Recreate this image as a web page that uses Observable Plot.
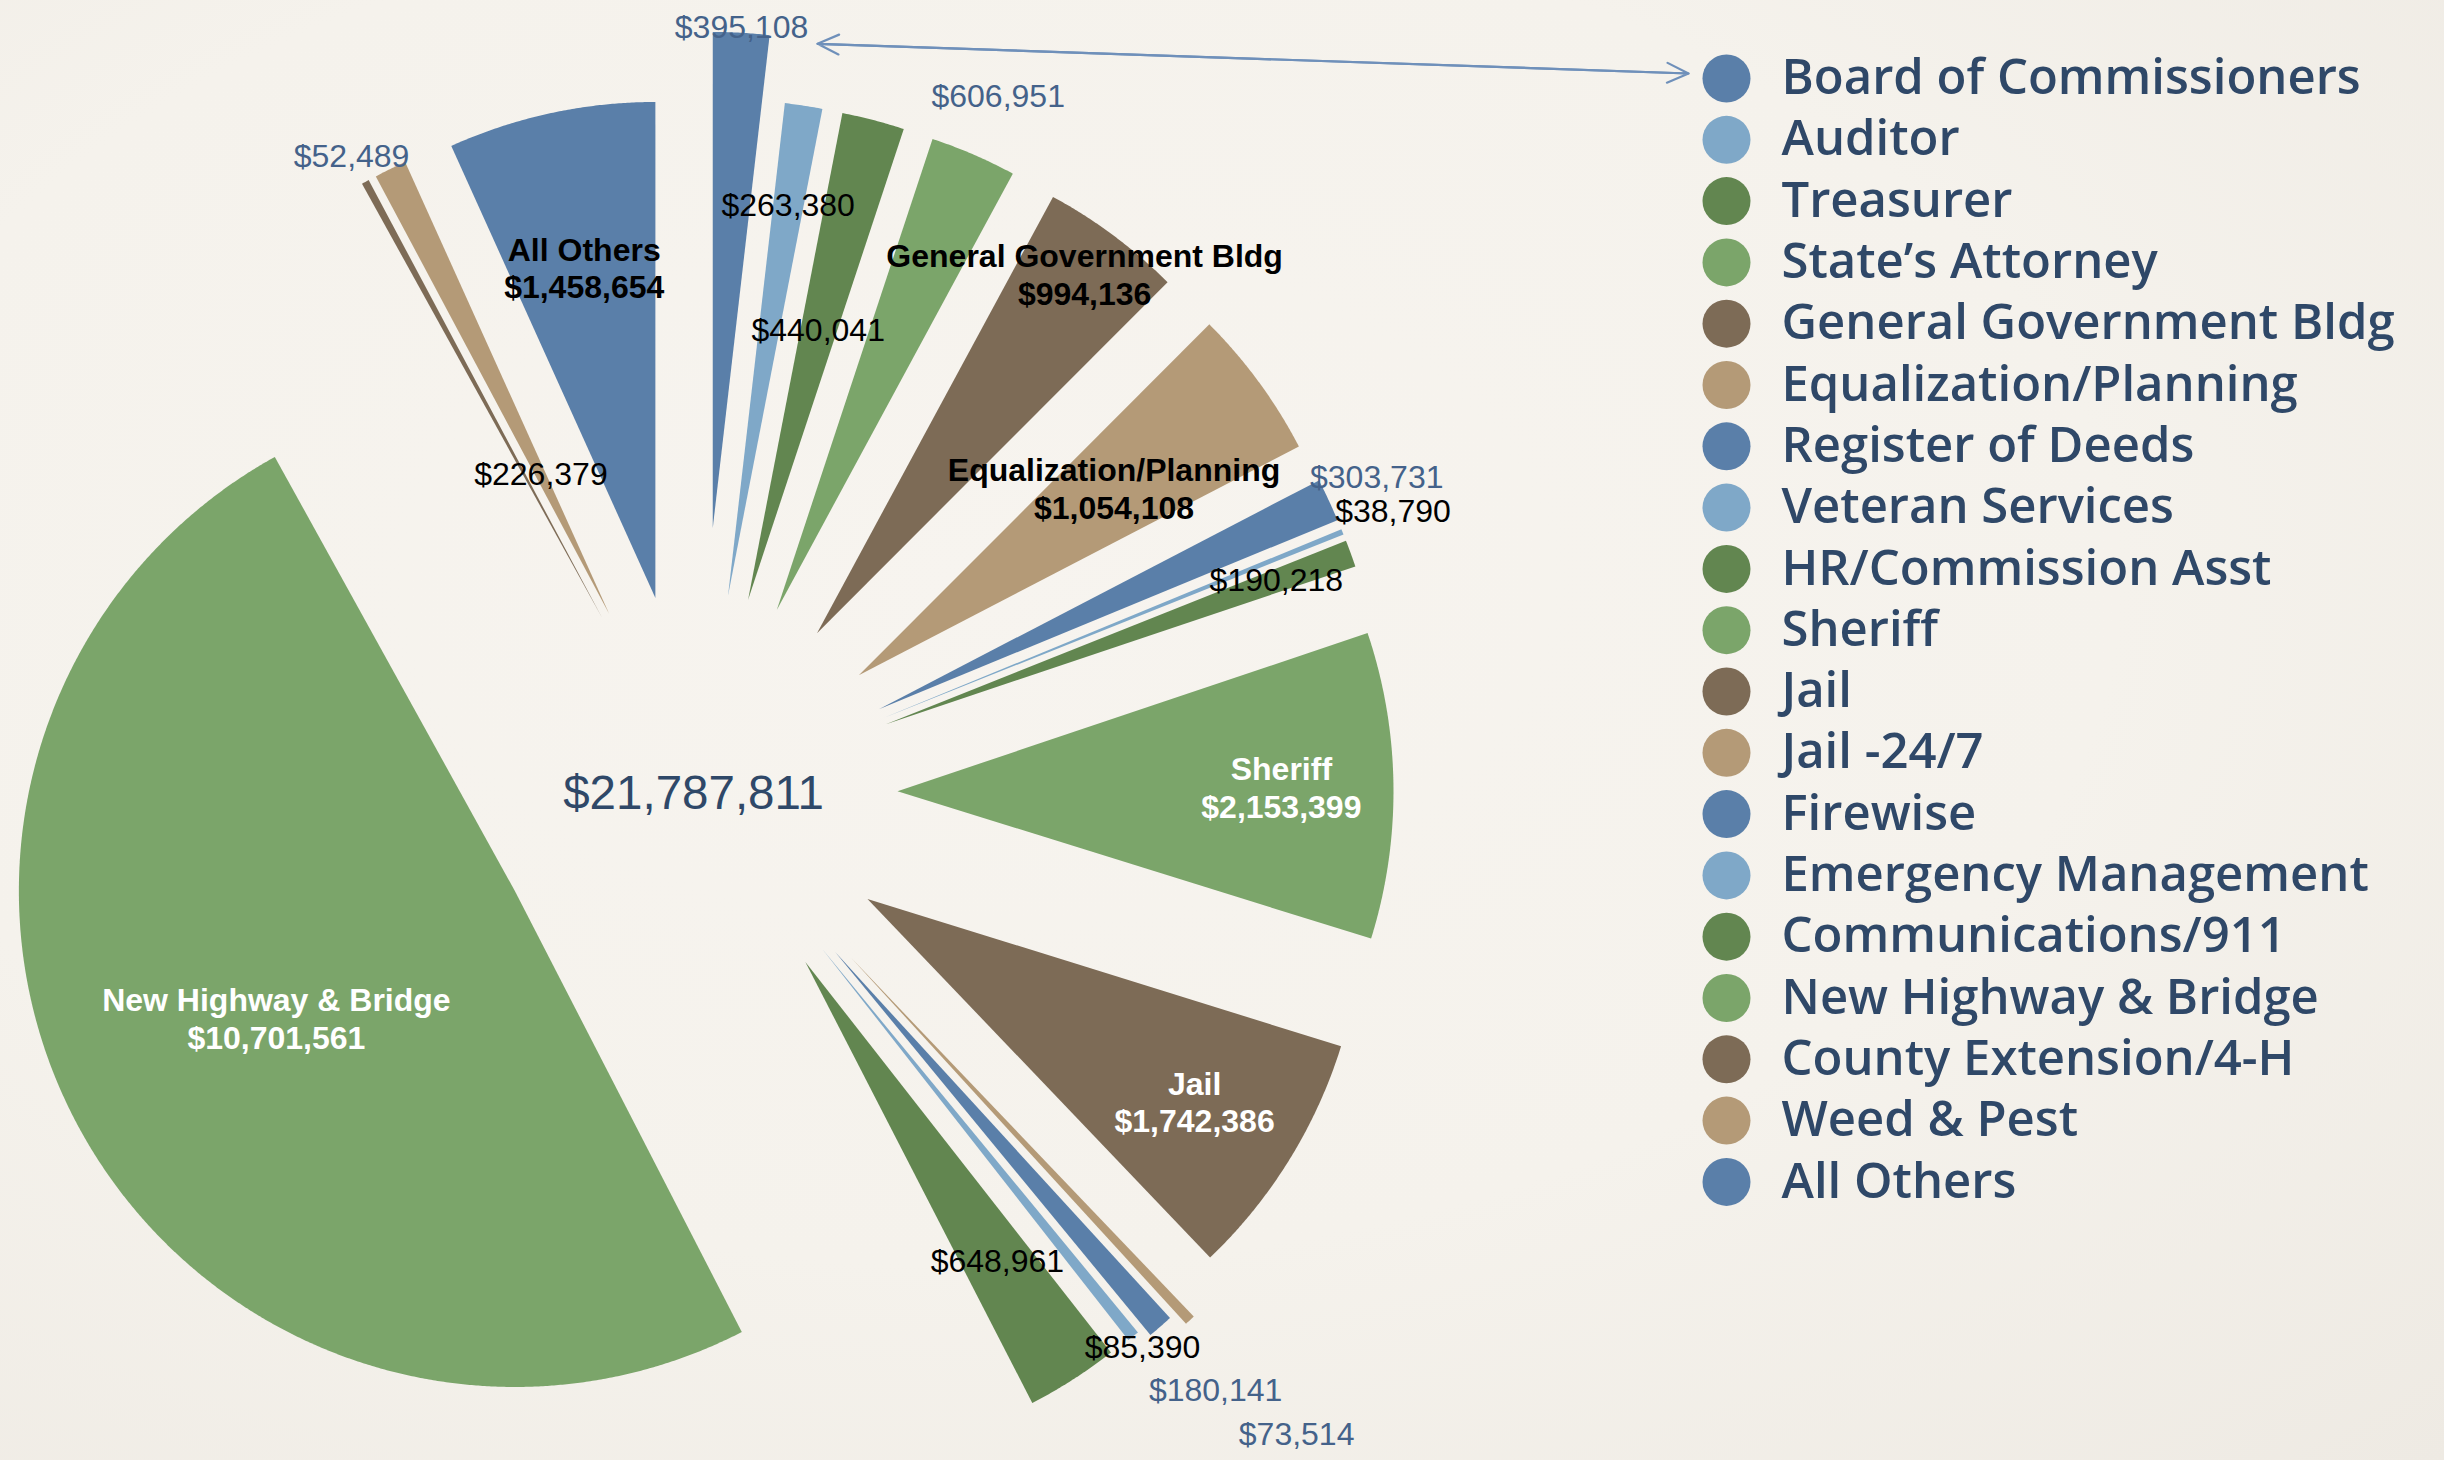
<!DOCTYPE html>
<html>
<head>
<meta charset="utf-8">
<script src="https://cdn.jsdelivr.net/npm/d3@7"></script>
<script src="https://cdn.jsdelivr.net/npm/@observablehq/plot@0.6"></script>
<style>
  html, body { margin: 0; padding: 0; background: #f4f1eb; }
  #chart {
    width: 2444px; height: 1460px; overflow: hidden;
    background: radial-gradient(ellipse at 40% 40%, #f7f4ef 0%, #f5f2ec 55%, #eeeae3 100%);
  }
</style>
</head>
<body>
<div id="chart"></div>
<script>
// ---------------- data ----------------
const departments = [
  "Board of Commissioners", "Auditor", "Treasurer", "State’s Attorney",
  "General Government Bldg", "Equalization/Planning", "Register of Deeds",
  "Veteran Services", "HR/Commission Asst", "Sheriff", "Jail", "Jail -24/7",
  "Firewise", "Emergency Management", "Communications/911",
  "New Highway & Bridge", "County Extension/4-H", "Weed & Pest", "All Others"
];
const amounts = [
  395108, 263380, 440041, 606951, 994136, 1054108, 303731, 38790, 190218,
  2153399, 1742386, 73514, 180141, 85390, 648961, 10701561, 52489, 226379, 1458654
];
// slices whose label also carries the department name
const namedSlices = ["General Government Bldg", "Equalization/Planning", "Sheriff", "Jail", "New Highway & Bridge", "All Others"];
const totalLabel = "$21,787,811";

// ---------------- styles / layout ----------------
const palette = ["#5a7fa9", "#7fa8c8", "#628650", "#7ba56a", "#7d6b56", "#b49a77"];
const W = 2444, H = 1460;
const cx = 697, cy = 793, R = 496, explode = 200;
const explodeOverride = {"Board of Commissioners": 266, "New Highway & Bridge": 207, "Jail -24/7": 225, "Firewise": 210};
// radial position of each value label along its slice's mid ray (in radii from the apex) and tone
const labelK = [1.01, 0.795, 0.56, 1.126, 0.903, 0.638, 1.107, 1.11, 0.84, 0.774, 0.776, 1.315, 1.17, 1.03, 0.718, 0.545, 1.058, 0.312, 0.682];
const labelTone = ["blue","black","black","blue","boldDark","boldDark","blue","black","black","boldLight","boldLight","blue","blue","black","black","boldLight","blue","black","boldDark"];
const toneColor = {blue: "#44628a", black: "#000000", boldDark: "#000000", boldLight: "#ffffff"};
const navy = "#2f4868";

// ---------------- geometry ----------------
const arcs = d3.pie().sort(null).startAngle(0).endAngle(2 * Math.PI)(amounts);
const fmt = d3.format("$,");

const slices = arcs.map((a, i) => {
  const name = departments[i];
  const mid = (a.startAngle + a.endAngle) / 2;
  const off = explodeOverride[name] ?? explode;
  const ax = cx + off * Math.sin(mid), ay = cy - off * Math.cos(mid);
  return {name, value: amounts[i], color: palette[i % palette.length], start: a.startAngle, end: a.endAngle, mid, ax, ay, i};
});

const polyPoints = [];
for (const s of slices) {
  polyPoints.push({name: s.name, color: s.color, x: s.ax, y: s.ay});
  const n = Math.max(2, Math.ceil((s.end - s.start) / (Math.PI / 720)));
  for (let j = 0; j <= n; j++) {
    const t = s.start + (s.end - s.start) * j / n;
    polyPoints.push({name: s.name, color: s.color, x: s.ax + R * Math.sin(t), y: s.ay - R * Math.cos(t)});
  }
  polyPoints.push({name: s.name, color: s.color, x: s.ax, y: s.ay});
}

const labels = slices.map((s, i) => {
  const k = labelK[i];
  const tone = labelTone[i];
  const text = namedSlices.includes(s.name) ? `${s.name}\n${fmt(s.value)}` : fmt(s.value);
  return {
    x: s.ax + k * R * Math.sin(s.mid),
    y: s.ay - k * R * Math.cos(s.mid),
    text, color: toneColor[tone], bold: tone.startsWith("bold")
  };
});

// legend
const legendX = 1726, legendTop = 78, legendStep = 61.3, legendTextX = 1781;
const legend = slices.map((s, i) => ({name: s.name, color: s.color, y: legendTop + i * legendStep}));

// arrow linking the Board of Commissioners value to its legend entry
const boc = labels[0];
const arrowA = {x: boc.x + 76, y: boc.y + 16};
const arrowB = {x: legendX - 38, y: legend[0].y - 5};

const chart = Plot.plot({
  width: W, height: H,
  margin: 0,
  x: {domain: [0, W], range: [0, W], axis: null},
  y: {domain: [0, H], range: [0, H], axis: null},
  color: {type: "identity"},
  style: {background: "transparent", fontFamily: "'Liberation Sans', Arial, sans-serif", overflow: "visible"},
  marks: [
    Plot.line(polyPoints, {x: "x", y: "y", z: "name", fill: "color", stroke: "none", curve: "linear"}),
    Plot.text([totalLabel], {x: [cx - 4], y: [cy], text: d => d, fill: navy, fontSize: 47.5, textAnchor: "middle", lineAnchor: "middle"}),
    Plot.text(labels.filter(d => !d.bold), {x: "x", y: "y", text: "text", fill: "color", fontSize: 32, textAnchor: "middle", lineAnchor: "middle"}),
    Plot.text(labels.filter(d => d.bold), {x: "x", y: "y", text: "text", fill: "color", fontSize: 32, fontWeight: "bold", lineHeight: 1.17, textAnchor: "middle", lineAnchor: "middle"}),
    Plot.arrow([0], {x1: arrowB.x, y1: arrowB.y, x2: arrowA.x, y2: arrowA.y, stroke: "#6f90ba", strokeWidth: 2.2, headLength: 16, headAngle: 50}),
    Plot.arrow([0], {x1: arrowA.x, y1: arrowA.y, x2: arrowB.x, y2: arrowB.y, stroke: "#6f90ba", strokeWidth: 2.2, headLength: 16, headAngle: 50}),
    Plot.dot(legend, {x: legendX, y: "y", r: 24, fill: "color", stroke: "none"}),
    Plot.text(legend, {x: legendTextX, y: "y", text: "name", fill: navy, fontSize: 49, fontWeight: 600, fontFamily: "'Open Sans', 'Noto Sans', sans-serif", textAnchor: "start", lineAnchor: "middle"})
  ]
});
document.getElementById("chart").append(chart);
</script>
</body>
</html>
